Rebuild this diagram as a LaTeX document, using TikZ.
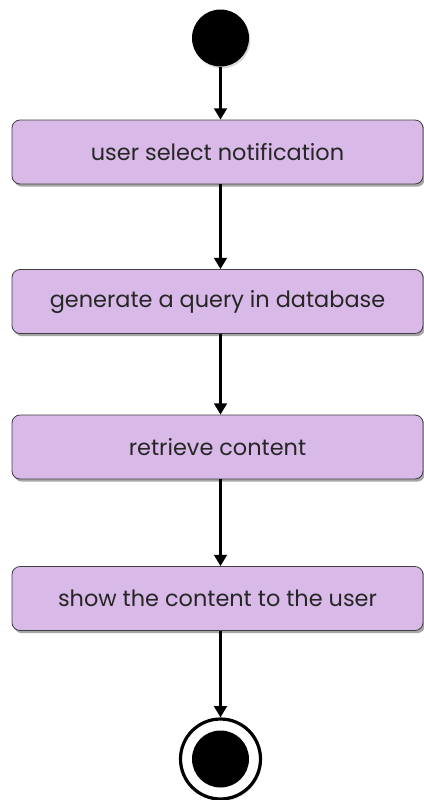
\documentclass[tikz,border=0pt]{standalone}
\usepackage{fontspec}
\setmainfont{Poppins}
\usetikzlibrary{arrows.meta,shadows}
\definecolor{boxfill}{HTML}{D8B9E8}
\begin{document}
\begin{tikzpicture}[x=0.75pt,y=-0.75pt,
  actbox/.style={draw=black!75,line width=0.6pt,fill=boxfill,rounded corners=6pt,
    minimum width=411*0.75pt,minimum height=64*0.75pt,inner sep=0pt,
    font=\fontsize{16.8}{19}\selectfont,text=black!85,
    drop shadow={shadow xshift=1.5pt,shadow yshift=-2pt,opacity=0.35,fill=black}},
  flow/.style={line width=2.4pt,-{Triangle[width=9.5pt,length=8.5pt]}}]
\useasboundingbox (0,0) rectangle (424,800);
\node[circle,fill=black,minimum size=57*0.75pt,inner sep=0pt,
  drop shadow={shadow xshift=1pt,shadow yshift=-1.5pt,opacity=0.3}] (s) at (220.5,38) {};
\node[actbox] (b1) at (217.5,152) {user select notification};
\node[actbox] (b2) at (217.5,301.5) {generate a query in database};
\node[actbox] (b3) at (217.5,447) {retrieve content};
\node[actbox] (b4) at (217.5,598.5) {show the content to the user};
\node[circle,draw=black,line width=2.4pt,fill=white,minimum size=80*0.75pt,inner sep=0pt,
  drop shadow={shadow xshift=1pt,shadow yshift=-1.5pt,opacity=0.3}] (e) at (220.5,759) {};
\node[circle,fill=black,minimum size=57*0.75pt,inner sep=0pt] (ei) at (e.center) {};
\draw[flow] (s.south) -- (b1.north -| s.center);
\draw[flow] (b1.south -| s.center) -- (b2.north -| s.center);
\draw[flow] (b2.south -| s.center) -- (b3.north -| s.center);
\draw[flow] (b3.south -| s.center) -- (b4.north -| s.center);
\draw[flow] (b4.south -| s.center) -- (e.north);
\end{tikzpicture}
\end{document}
